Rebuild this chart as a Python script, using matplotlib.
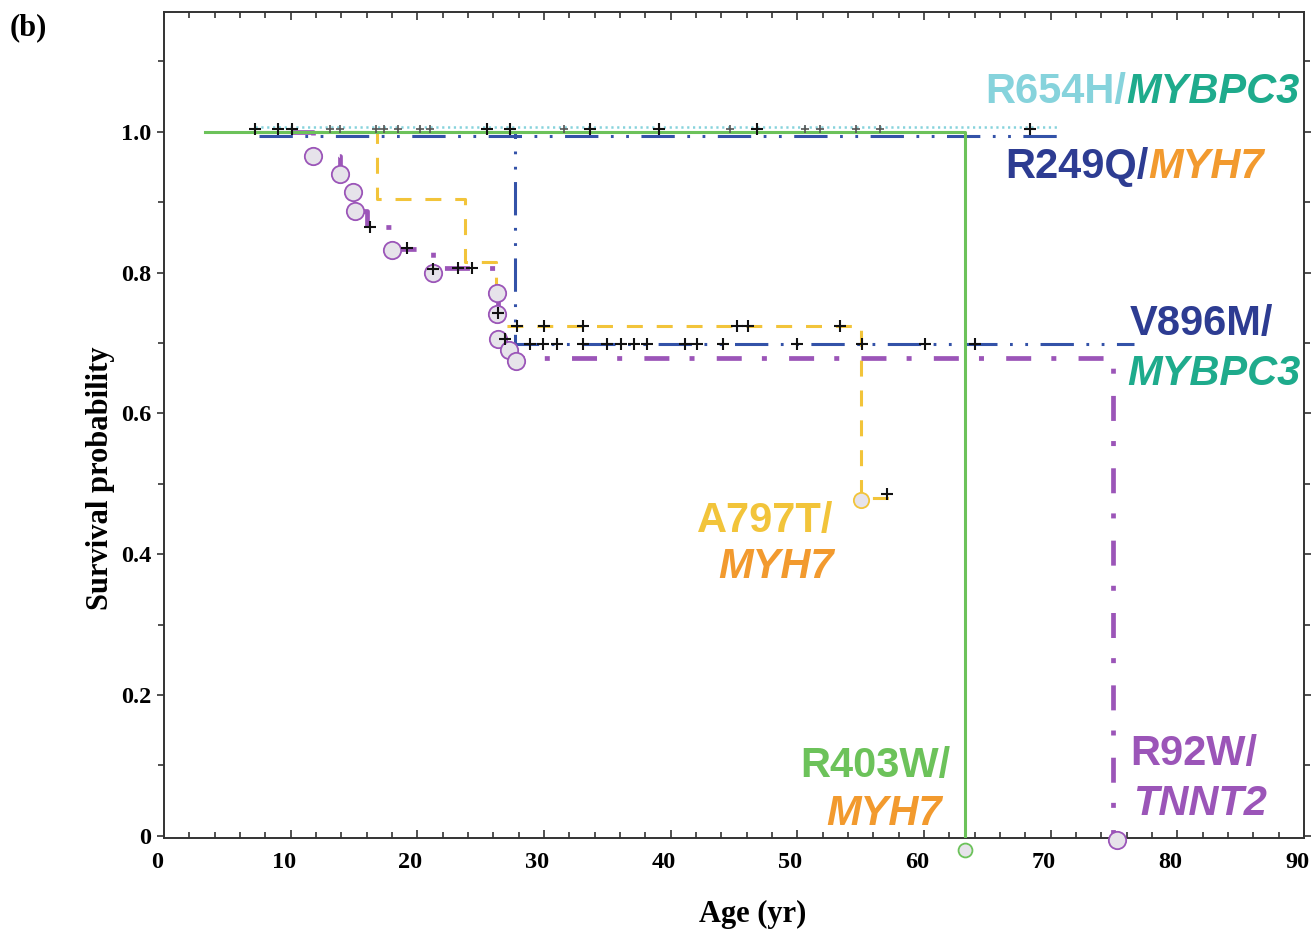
import matplotlib
matplotlib.use('Agg')
import matplotlib.pyplot as plt
import matplotlib.transforms as mtransforms
from matplotlib.ticker import MultipleLocator, FuncFormatter

# ── Data ──────────────────────────────────────────────────────────────────
# step curves: start time then event times, survival after each step
r403w_t = [3.2, 63.2]
r403w_s = [1.0, 0.0]

r654h_t = [7.2, 70.6]
r654h_s = [1.007, 1.007]

r249q_t = [7.5, 70.5]
r249q_s = [0.994, 0.994]

v896m_t = [7.5, 27.7, 76.6]
v896m_s = [1.0, 0.699, 0.699]

a797t_t = [7.0, 16.8, 23.8, 26.2, 55.0, 57.6]
a797t_s = [1.0, 0.905, 0.815, 0.724, 0.48, 0.48]

r92w_t = [10.0, 11.8, 13.9, 14.9, 15.1, 16.0, 18.0, 21.2, 26.3, 26.35, 26.4, 27.2, 27.8, 74.9]
r92w_s = [1.0, 0.965, 0.94, 0.914, 0.887, 0.864, 0.833, 0.806, 0.771, 0.741, 0.706, 0.69, 0.678, 0.0]

# event circles
r92w_circ_t = [11.8, 13.9, 14.9, 15.1, 18.0, 21.2, 26.3, 26.3, 26.4, 27.2, 27.8, 75.2]
r92w_circ_s = [0.965, 0.94, 0.914, 0.887, 0.832, 0.80, 0.771, 0.741, 0.706, 0.69, 0.675, -0.006]
a797t_circ_t = [55.0]
a797t_circ_s = [0.477]
r403w_circ_t = [63.2]
r403w_circ_s = [-0.02]

# censored observations (+)
top_cens_t = [7.2, 9.0, 10.1, 25.5, 27.3, 33.6, 39.1, 46.8, 68.4]
top_cens_s = [1.004] * len(top_cens_t)
top_faint_t = [13.1, 13.9, 16.7, 17.4, 18.5, 20.2, 21.0, 31.6, 44.7, 50.6, 51.8, 54.6, 56.5]
top_faint_s = [1.004] * len(top_faint_t)
v896m_cens_t = [28.9, 29.9, 31.0, 33.1, 35.0, 36.1, 37.1, 38.1, 41.1, 42.1, 44.1, 50.0, 55.1, 60.1, 64.0]
v896m_cens_s = [0.699] * len(v896m_cens_t)
a797t_cens_t = [27.9, 30.0, 33.1, 45.2, 46.1, 53.4, 57.1]
a797t_cens_s = [0.724, 0.724, 0.724, 0.724, 0.724, 0.724, 0.486]
r92w_cens_t = [16.3, 19.2, 21.2, 23.2, 24.3, 26.4, 26.9]
r92w_cens_s = [0.864, 0.835, 0.805, 0.807, 0.807, 0.743, 0.705]

# ── Colours ───────────────────────────────────────────────────────────────
GREEN = '#6cc25a'
CYAN = '#86d3dc'
BLUE = '#3352a8'
NAVY = '#2d3c92'
YELLOW = '#f2c43a'
ORANGE = '#f29a2e'
TEAL = '#1eab8c'
PURPLE = '#9b55b8'
CIRC_FILL = '#e6e3ea'

plt.rcParams['lines.scale_dashes'] = False
plt.rcParams['font.family'] = 'Liberation Serif'
plt.rcParams['font.weight'] = 'bold'
plt.rcParams['xtick.labelsize'] = 17.5
plt.rcParams['ytick.labelsize'] = 17.5

W, H = 1316, 932
fig = plt.figure(figsize=(W / 100, H / 100), dpi=100)
ax = fig.add_axes([164 / W, 1 - 838 / H, 1140 / W, 826 / H])

# curves
ax.plot(r654h_t, r654h_s, color=CYAN, lw=1.8, dashes=(1.6, 2.6), zorder=2)
ax.plot(r249q_t, r249q_s, color=BLUE, lw=2.2, dashes=(24, 9, 2, 9, 2, 9),
        drawstyle='steps-post', zorder=2)
ax.plot(v896m_t, v896m_s, color=BLUE, lw=2.2, dashes=(24, 9, 2, 9, 2, 9),
        drawstyle='steps-post', zorder=3)
ax.plot(a797t_t, a797t_s, color=YELLOW, lw=2.2, dashes=(11.5, 10),
        drawstyle='steps-post', zorder=3)
ax.plot(r92w_t, r92w_s, color=PURPLE, lw=3.4, dashes=(18, 14.5, 3.6, 16),
        drawstyle='steps-post', zorder=3)
ax.plot(r403w_t, r403w_s, color=GREEN, lw=2.2, drawstyle='steps-post', zorder=4)

# event circles
ax.plot(r92w_circ_t, r92w_circ_s, 'o', ms=12.5, mfc=CIRC_FILL, mec=PURPLE,
        mew=1.3, ls='none', zorder=5, clip_on=False)
ax.plot(a797t_circ_t, a797t_circ_s, 'o', ms=11, mfc=CIRC_FILL, mec=YELLOW,
        mew=1.3, ls='none', zorder=5, clip_on=False)
ax.plot(r403w_circ_t, r403w_circ_s, 'o', ms=10, mfc=CIRC_FILL, mec=GREEN,
        mew=1.3, ls='none', zorder=5, clip_on=False)

# censored marks
for ct, cs in [(top_cens_t, top_cens_s), (v896m_cens_t, v896m_cens_s),
               (a797t_cens_t, a797t_cens_s), (r92w_cens_t, r92w_cens_s)]:
    ax.plot(ct, cs, '+', ms=8, mew=1.5, color='#111111', ls='none', zorder=6)
ax.plot(top_faint_t, top_faint_s, '+', ms=6, mew=1.2, color='#555555',
        ls='none', zorder=6)

# axes
ax.set_xlim(0, 90)
ax.set_ylim(-0.003, 1.17)
ax.xaxis.set_major_locator(MultipleLocator(10))
ax.xaxis.set_minor_locator(MultipleLocator(2))
ax.yaxis.set_major_locator(MultipleLocator(0.2))
ax.yaxis.set_minor_locator(MultipleLocator(0.1))
ax.yaxis.set_major_formatter(FuncFormatter(lambda v, p: '0' if abs(v) < 1e-9 else f'{v:.1f}'))

for sp in ax.spines.values():
    sp.set_linewidth(1.4)
    sp.set_color('#333333')

ax.tick_params(axis='x', which='both', direction='in', top=True, width=1.2,
               color='#333333', pad=10)
ax.tick_params(axis='x', which='major', length=6)
ax.tick_params(axis='x', which='minor', length=4)
ax.tick_params(axis='y', which='both', direction='out', right=True, width=1.2,
               color='#333333', pad=4)
ax.tick_params(axis='y', which='major', length=5)
ax.tick_params(axis='y', which='minor', length=4)

# x tick labels sit a little left of their ticks in the original
fig.canvas.draw()
shift = mtransforms.ScaledTranslation(-7 / 100, 0, fig.dpi_scale_trans)
for lab in ax.get_xticklabels():
    lab.set_transform(lab.get_transform() + shift)

ax.set_xlabel('Age (yr)', weight='bold', size=22, va='top')
ax.xaxis.set_label_coords(0.516, -0.075)
ax.set_ylabel('Survival probability', weight='bold', size=22)
ax.yaxis.set_label_coords(-0.043, 0.436)

fig.text(10 / W, 1 - 35 / H, '(b)', weight='bold', size=22, va='baseline')

# curve labels
LAB = dict(family='Liberation Sans', weight='bold', size=30)


def label_pair(px, py, a, ca, b, cb):
    t1 = fig.text(px / W, 1 - py / H, a, color=ca, va='baseline', **LAB)
    fig.canvas.draw()
    ax.annotate(b, xy=(1, 0), xycoords=t1, va='bottom', ha='left', color=cb,
                style='italic', annotation_clip=False, **LAB)


def label_line(px, py, s, c, italic=False):
    fig.text(px / W, 1 - py / H, s, color=c, va='baseline',
             style='italic' if italic else 'normal', **LAB)


label_pair(985, 103, 'R654H/', CYAN, 'MYBPC3', TEAL)
label_pair(1005, 178, 'R249Q/', NAVY, 'MYH7', ORANGE)
label_line(1130, 335, 'V896M/', NAVY)
label_line(1127, 385, 'MYBPC3', TEAL, italic=True)
label_line(697, 532, 'A797T/', YELLOW)
label_line(718, 578, 'MYH7', ORANGE, italic=True)
label_line(800, 777, 'R403W/', GREEN)
label_line(826, 825, 'MYH7', ORANGE, italic=True)
label_line(1130, 765, 'R92W/', PURPLE)
label_line(1133, 815, 'TNNT2', PURPLE, italic=True)

fig.savefig('out.png', dpi=100)
